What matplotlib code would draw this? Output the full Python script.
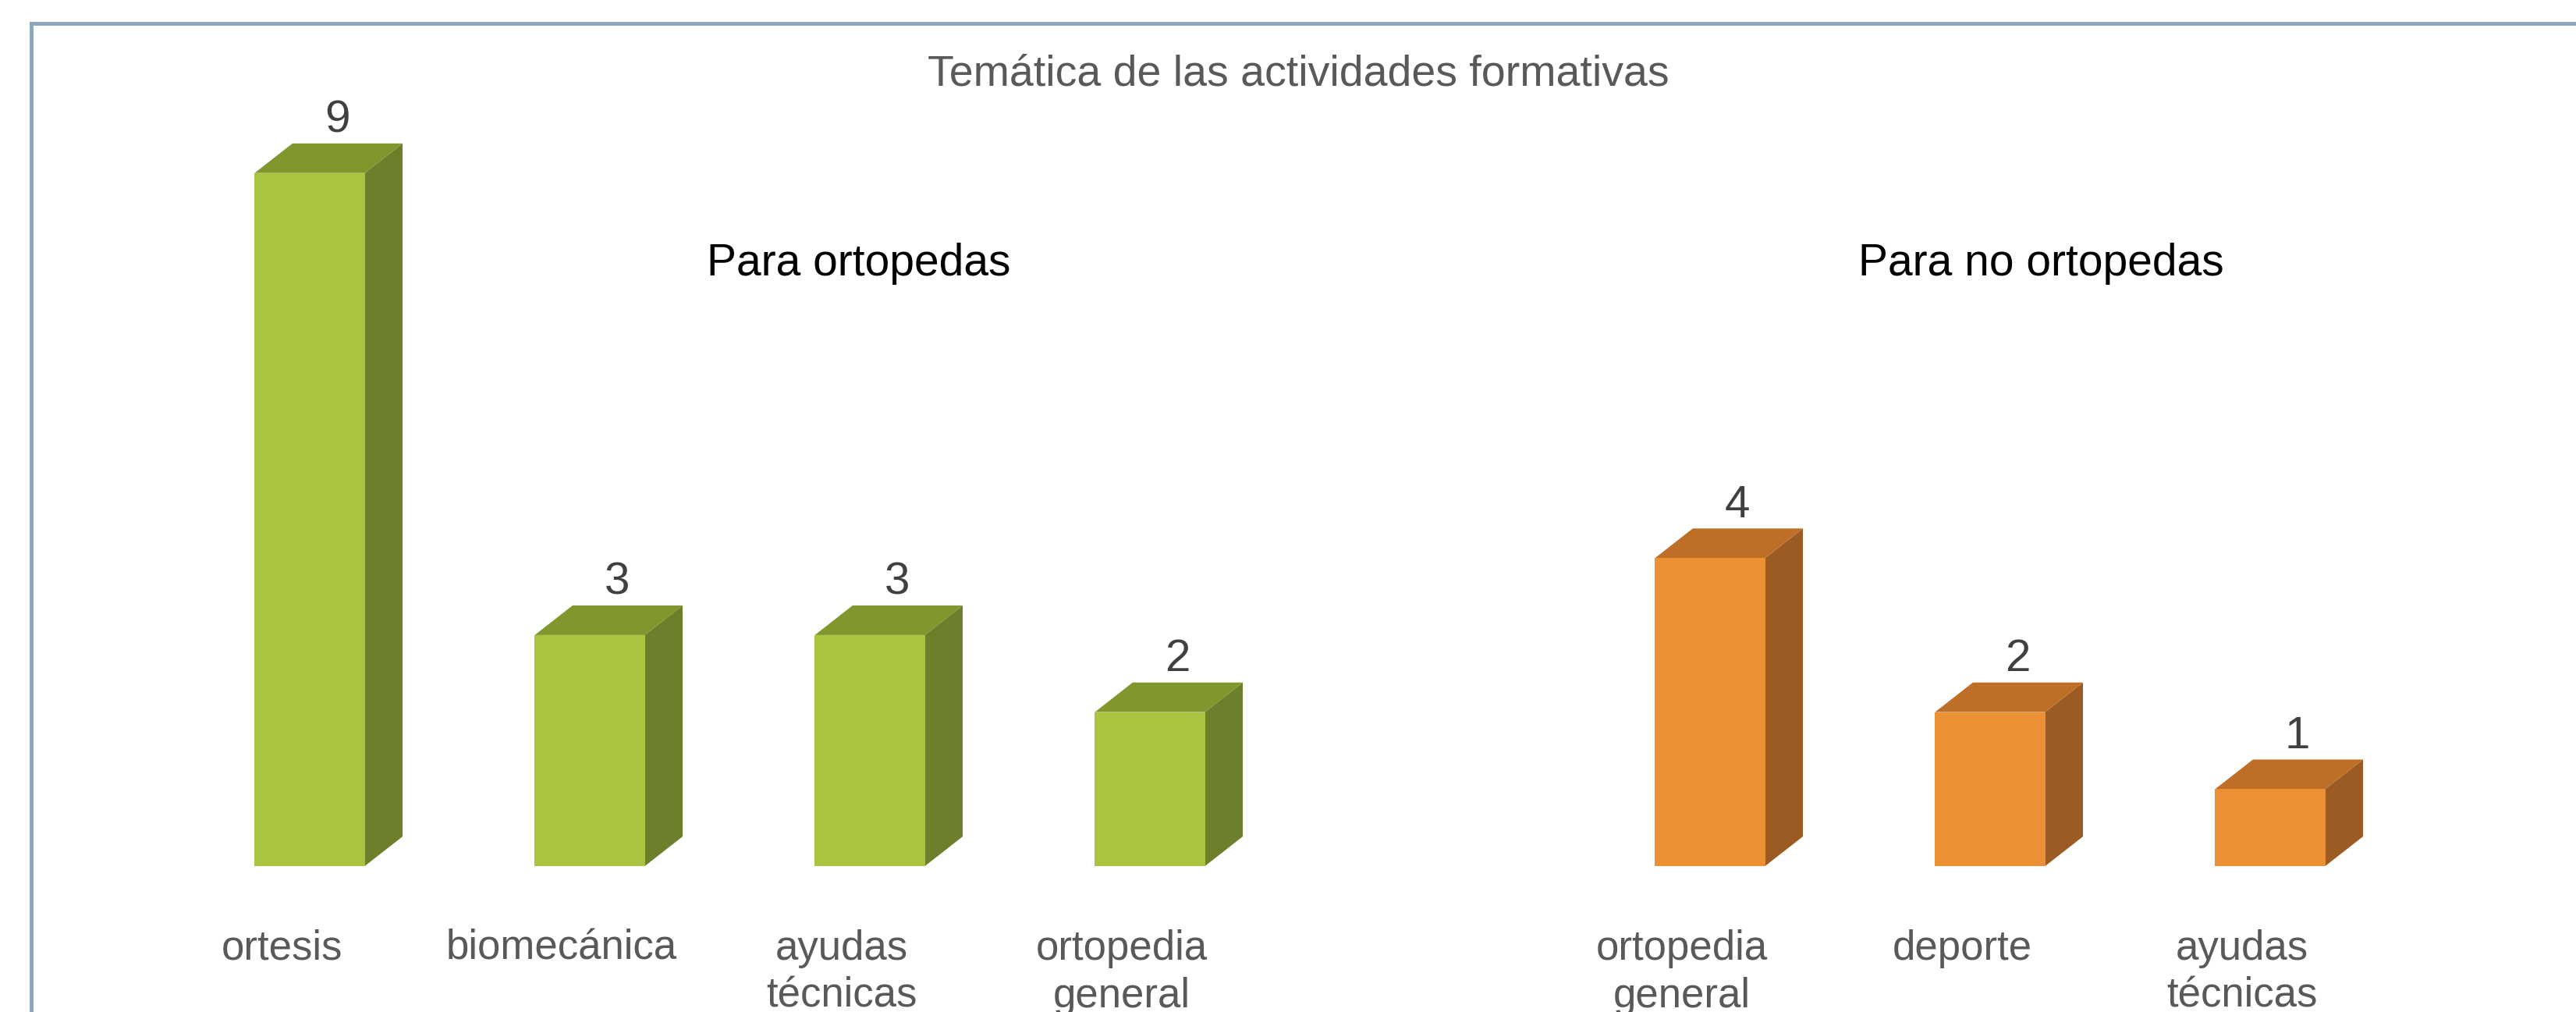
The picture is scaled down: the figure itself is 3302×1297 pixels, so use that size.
import matplotlib
matplotlib.use("Agg")
import matplotlib.pyplot as plt
from matplotlib.patches import Rectangle, Polygon
from matplotlib.lines import Line2D

plt.rcParams['font.family'] = ['Liberation Sans', 'DejaVu Sans']

# Datos
TITULO = "Temática de las actividades formativas"
GRUPOS = ["Para ortopedas", "Para no ortopedas"]
CAT_ORTOPEDAS = ["ortesis", "biomecánica", "ayudas\ntécnicas", "ortopedia\ngeneral"]
VAL_ORTOPEDAS = [9, 3, 3, 2]
CAT_NO_ORTOPEDAS = ["ortopedia\ngeneral", "deporte", "ayudas\ntécnicas"]
VAL_NO_ORTOPEDAS = [4, 2, 1]

VERDE = ("#A9C441", "#6C7F2A", "#7F972D")     # frente, lado, arriba
NARANJA = ("#EB9035", "#9C5B22", "#BD6F27")
GRIS = "#595959"

W, H = 3302, 1297
fig = plt.figure(figsize=(W / 100, H / 100), dpi=100)
ax = fig.add_axes([0, 0, 1, 1])
ax.axis("off")

# escala: centro de la primera barra en px 397, separacion 359 px, base en 187 px, 98.7 px por unidad
ax.set_xlim((0 - 397) / 359, (W - 397) / 359)
ax.set_ylim(-187 / 98.7, (H - 187) / 98.7)

ancho = 0.393
dx, dy = 0.135, 0.384   # profundidad del efecto 3D


def barra3d(x, v, colores):
    frente, lado, arriba = colores
    izq, der = x - ancho / 2, x + ancho / 2
    ax.add_patch(Polygon([(der, 0), (der + dx, dy), (der + dx, v + dy), (der, v)],
                         closed=True, facecolor=lado, edgecolor="none"))
    ax.add_patch(Polygon([(izq, v), (der, v), (der + dx, v + dy), (izq + dx, v + dy)],
                         closed=True, facecolor=arriba, edgecolor="none"))
    ax.add_patch(Rectangle((izq, 0), ancho, v, facecolor=frente, edgecolor="none"))
    ax.text(x + dx / 2 + 0.03, v + dy + 0.30, str(v), ha="center", va="center",
            fontsize=42, color="#404040")


def grupo(cats, vals, inicio, colores):
    for i, (c, v) in enumerate(zip(cats, vals)):
        x = inicio + i
        barra3d(x, v, colores)
        ax.text(x - 0.1, -0.82, c, ha="center", va="top", fontsize=38,
                color=GRIS, linespacing=1.28)


grupo(CAT_ORTOPEDAS, VAL_ORTOPEDAS, 0, VERDE)
grupo(CAT_NO_ORTOPEDAS, VAL_NO_ORTOPEDAS, len(CAT_ORTOPEDAS) + 1, NARANJA)

fig.text(1664 / W, 1 - 95 / H, TITULO, ha="center", va="center", fontsize=40, color=GRIS)
fig.text(1101 / W, 1 - 338 / H, GRUPOS[0], ha="center", va="center", fontsize=41, color="black")
fig.text(2616 / W, 1 - 338 / H, GRUPOS[1], ha="center", va="center", fontsize=41, color="black")

# marco
borde = "#8DA5BF"
fig.add_artist(Line2D([40 / W, 40 / W], [0, 1 - 30 / H], color=borde, lw=3.5,
                      transform=fig.transFigure))
fig.add_artist(Line2D([40 / W, 1], [1 - 30 / H, 1 - 30 / H], color=borde, lw=3.5,
                      transform=fig.transFigure))

fig.savefig("out.png", dpi=100)
